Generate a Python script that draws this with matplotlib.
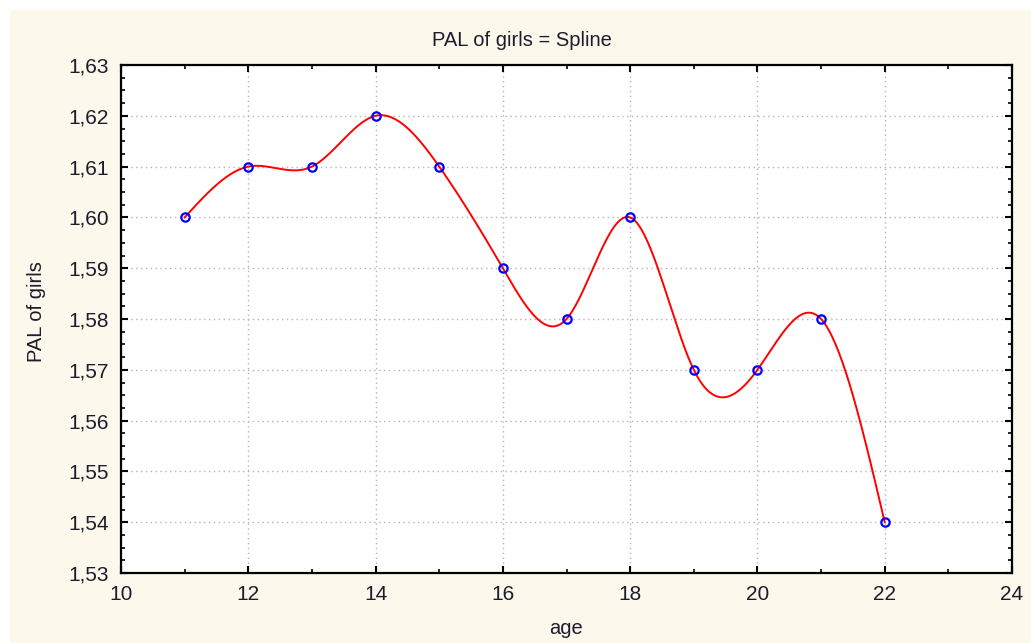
import matplotlib.pyplot as plt
import numpy as np
from matplotlib.patches import Rectangle
from matplotlib.ticker import FuncFormatter, MultipleLocator

age = [11, 12, 13, 14, 15, 16, 17, 18, 19, 20, 21, 22]
pal_girls = [1.60, 1.61, 1.61, 1.62, 1.61, 1.59, 1.58, 1.60, 1.57, 1.57, 1.58, 1.54]

BG = "#fdf8ec"
TXT = "#1c1c2c"


def natural_spline(x, y, n=400):
    """Natural cubic spline through (x, y), evaluated on a dense grid."""
    x = np.asarray(x, float)
    y = np.asarray(y, float)
    k = len(x)
    h = np.diff(x)
    A = np.zeros((k, k))
    r = np.zeros(k)
    A[0, 0] = A[-1, -1] = 1.0
    for i in range(1, k - 1):
        A[i, i - 1] = h[i - 1]
        A[i, i] = 2 * (h[i - 1] + h[i])
        A[i, i + 1] = h[i]
        r[i] = 6 * ((y[i + 1] - y[i]) / h[i] - (y[i] - y[i - 1]) / h[i - 1])
    m = np.linalg.solve(A, r)
    xs = np.linspace(x[0], x[-1], n)
    idx = np.clip(np.searchsorted(x, xs) - 1, 0, k - 2)
    x0, x1 = x[idx], x[idx + 1]
    hh = x1 - x0
    a = (x1 - xs) / hh
    b = (xs - x0) / hh
    ys = (a * y[idx] + b * y[idx + 1]
          + ((a ** 3 - a) * m[idx] + (b ** 3 - b) * m[idx + 1]) * hh ** 2 / 6)
    return xs, ys


plt.rcParams["font.family"] = ["Liberation Sans", "DejaVu Sans"]

fig = plt.figure(figsize=(10.31, 6.43), dpi=100, facecolor="white")
fig.patches.append(Rectangle((10 / 1031, 0), 1, 1 - 10 / 643,
                             transform=fig.transFigure, facecolor=BG,
                             edgecolor="none", zorder=-10))

ax = fig.add_axes([121 / 1031, 1 - 573 / 643, (1012 - 121) / 1031, (573 - 65) / 643])
ax.set_facecolor("white")

xs, ys = natural_spline(age, pal_girls)
ax.plot(xs, ys, color="#ff0000", lw=1.4, zorder=3)
ax.plot(age, pal_girls, ls="none", marker="o", ms=6, mfc="none",
        mec="#0000ff", mew=1.6, zorder=4)

ax.set_xlim(10, 24)
ax.set_ylim(1.53, 1.63)
ax.xaxis.set_major_locator(MultipleLocator(2))
ax.xaxis.set_minor_locator(MultipleLocator(1))
ax.yaxis.set_major_locator(MultipleLocator(0.01))
ax.yaxis.set_minor_locator(MultipleLocator(0.0025))
ax.yaxis.set_major_formatter(FuncFormatter(lambda v, _: f"{v:.2f}".replace(".", ",")))

ax.grid(True, which="major", ls=(0, (1, 2.5)), color="#b4b4b4", lw=1.0)
ax.tick_params(which="both", direction="in", top=True, right=True, color="black")
ax.tick_params(which="major", length=5, width=1.5, labelsize=15, labelcolor=TXT, pad=9)
ax.tick_params(which="minor", length=3, width=1.2)
for s in ax.spines.values():
    s.set_linewidth(1.6)
    s.set_color("black")

fig.text(522 / 1031, 1 - 40 / 643, "PAL of girls = Spline", ha="center", va="center",
         fontsize=14.5, color=TXT)
fig.text(566 / 1031, 1 - 629 / 643, "age", ha="center", va="center",
         fontsize=14.5, color=TXT)
fig.text(37 / 1031, 1 - 312 / 643, "PAL of girls", ha="center", va="center",
         rotation=90, fontsize=14.5, color=TXT)

fig.savefig("out.png", dpi=100, facecolor=fig.get_facecolor())
